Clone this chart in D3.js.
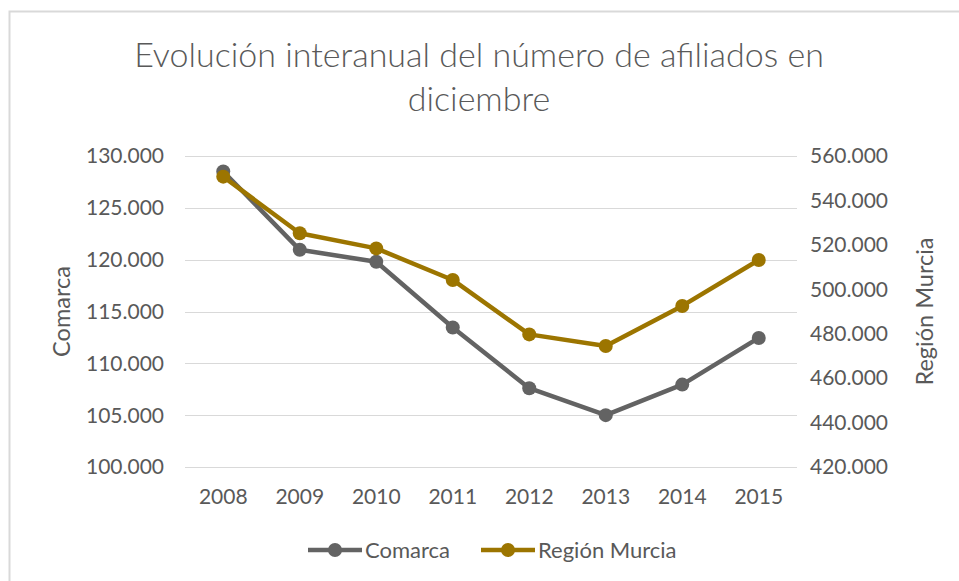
<!DOCTYPE html>
<html lang="es">
<head>
<meta charset="UTF-8" />
<title>Evolución interanual del número de afiliados</title>
<script src="https://d3js.org/d3.v7.min.js"></script>
<style>
  body { margin: 0; background: #fff; }
  svg { display: block; font-family: Lato, "Open Sans", sans-serif; }
  .tick-label { fill: #595959; font-size: 21px; }
  .axis-title { fill: #595959; font-size: 23.5px; }
  .title { fill: #595959; font-size: 34px; font-weight: 300; }
  .legend-label { fill: #595959; font-size: 22px; }
</style>
</head>
<body>
<div id="chart"></div>
<script>
const years = ["2008", "2009", "2010", "2011", "2012", "2013", "2014", "2015"];
const comarca = [128500, 120950, 119800, 113450, 107600, 105000, 107950, 112450];
const murcia = [550700, 525200, 518400, 504200, 479700, 474500, 492500, 513200];
const leftTicks = [100000, 105000, 110000, 115000, 120000, 125000, 130000];
const rightTicks = [420000, 440000, 460000, 480000, 500000, 520000, 540000, 560000];
const titleLines = ["Evolución interanual del número de afiliados en", "diciembre"];

const W = 959, H = 581;
const plot = { left: 185, right: 797, top: 156, bottom: 467 };
const grayC = "#636363", goldC = "#9c7500";

const fmt = d3.formatLocale({ decimal: ",", thousands: ".", grouping: [3], currency: ["", ""] }).format(",d");

const svg = d3.select("#chart").append("svg").attr("width", W).attr("height", H);

// outer chart frame (only top and left edges visible in the crop)
svg.append("rect").attr("x", 9.5).attr("y", 11.5).attr("width", W + 20).attr("height", H + 20)
  .attr("fill", "#fff").attr("stroke", "#d9d9d9").attr("stroke-width", 2);

const x = d3.scaleBand().domain(years).range([plot.left, plot.right]);
const yL = d3.scaleLinear().domain([100000, 130000]).range([plot.bottom, plot.top]);
const yR = d3.scaleLinear().domain([420000, 560000]).range([plot.bottom, plot.top]);
const cx = d => x(d) + x.bandwidth() / 2;

// gridlines
svg.append("g").selectAll("line").data(leftTicks).join("line")
  .attr("x1", plot.left).attr("x2", plot.right)
  .attr("y1", d => Math.round(yL(d)) + 0.5).attr("y2", d => Math.round(yL(d)) + 0.5)
  .attr("stroke", "#d9d9d9").attr("stroke-width", 1);

// left tick labels
svg.append("g").selectAll("text").data(leftTicks).join("text")
  .attr("class", "tick-label").attr("x", 164).attr("y", d => yL(d)).attr("dy", "0.35em")
  .attr("text-anchor", "end").text(fmt);

// right tick labels
svg.append("g").selectAll("text").data(rightTicks).join("text")
  .attr("class", "tick-label").attr("x", 810).attr("y", d => yR(d)).attr("dy", "0.35em")
  .attr("text-anchor", "start").text(fmt);

// x labels
svg.append("g").selectAll("text").data(years).join("text")
  .attr("class", "tick-label").attr("x", cx).attr("y", 497).attr("dy", "0.35em")
  .attr("text-anchor", "middle").text(d => d);

// axis titles
svg.append("text").attr("class", "axis-title")
  .attr("transform", `translate(62,${(plot.top + plot.bottom) / 2}) rotate(-90)`)
  .attr("dy", "0.35em").attr("text-anchor", "middle").text("Comarca");
svg.append("text").attr("class", "axis-title")
  .attr("transform", `translate(925,${(plot.top + plot.bottom) / 2}) rotate(-90)`)
  .attr("dy", "0.35em").attr("text-anchor", "middle").text("Región Murcia");

// title
svg.append("g").selectAll("text").data(titleLines).join("text")
  .attr("class", "title").attr("x", 479).attr("y", (d, i) => 67 + i * 44)
  .attr("text-anchor", "middle").text(d => d);

// series
const series = [
  { name: "Comarca", values: comarca, y: yL, color: grayC },
  { name: "Región Murcia", values: murcia, y: yR, color: goldC }
];

series.forEach(s => {
  const pts = years.map((yr, i) => [cx(yr), s.y(s.values[i])]);
  svg.append("path").attr("d", d3.line()(pts))
    .attr("fill", "none").attr("stroke", s.color).attr("stroke-width", 4.5)
    .attr("stroke-linejoin", "round");
  svg.append("g").selectAll("circle").data(pts).join("circle")
    .attr("cx", d => d[0]).attr("cy", d => d[1]).attr("r", 7).attr("fill", s.color);
});

// legend
const legendItems = [
  { name: "Comarca", color: grayC, x: 308 },
  { name: "Región Murcia", color: goldC, x: 481 }
];
const lg = svg.append("g").selectAll("g").data(legendItems).join("g")
  .attr("transform", d => `translate(${d.x},550)`);
lg.append("line").attr("x1", 0).attr("x2", 54).attr("stroke", d => d.color).attr("stroke-width", 4.5);
lg.append("circle").attr("cx", 27).attr("r", 7).attr("fill", d => d.color);
lg.append("text").attr("class", "legend-label").attr("x", 57).attr("dy", "0.35em").text(d => d.name);
</script>
</body>
</html>
